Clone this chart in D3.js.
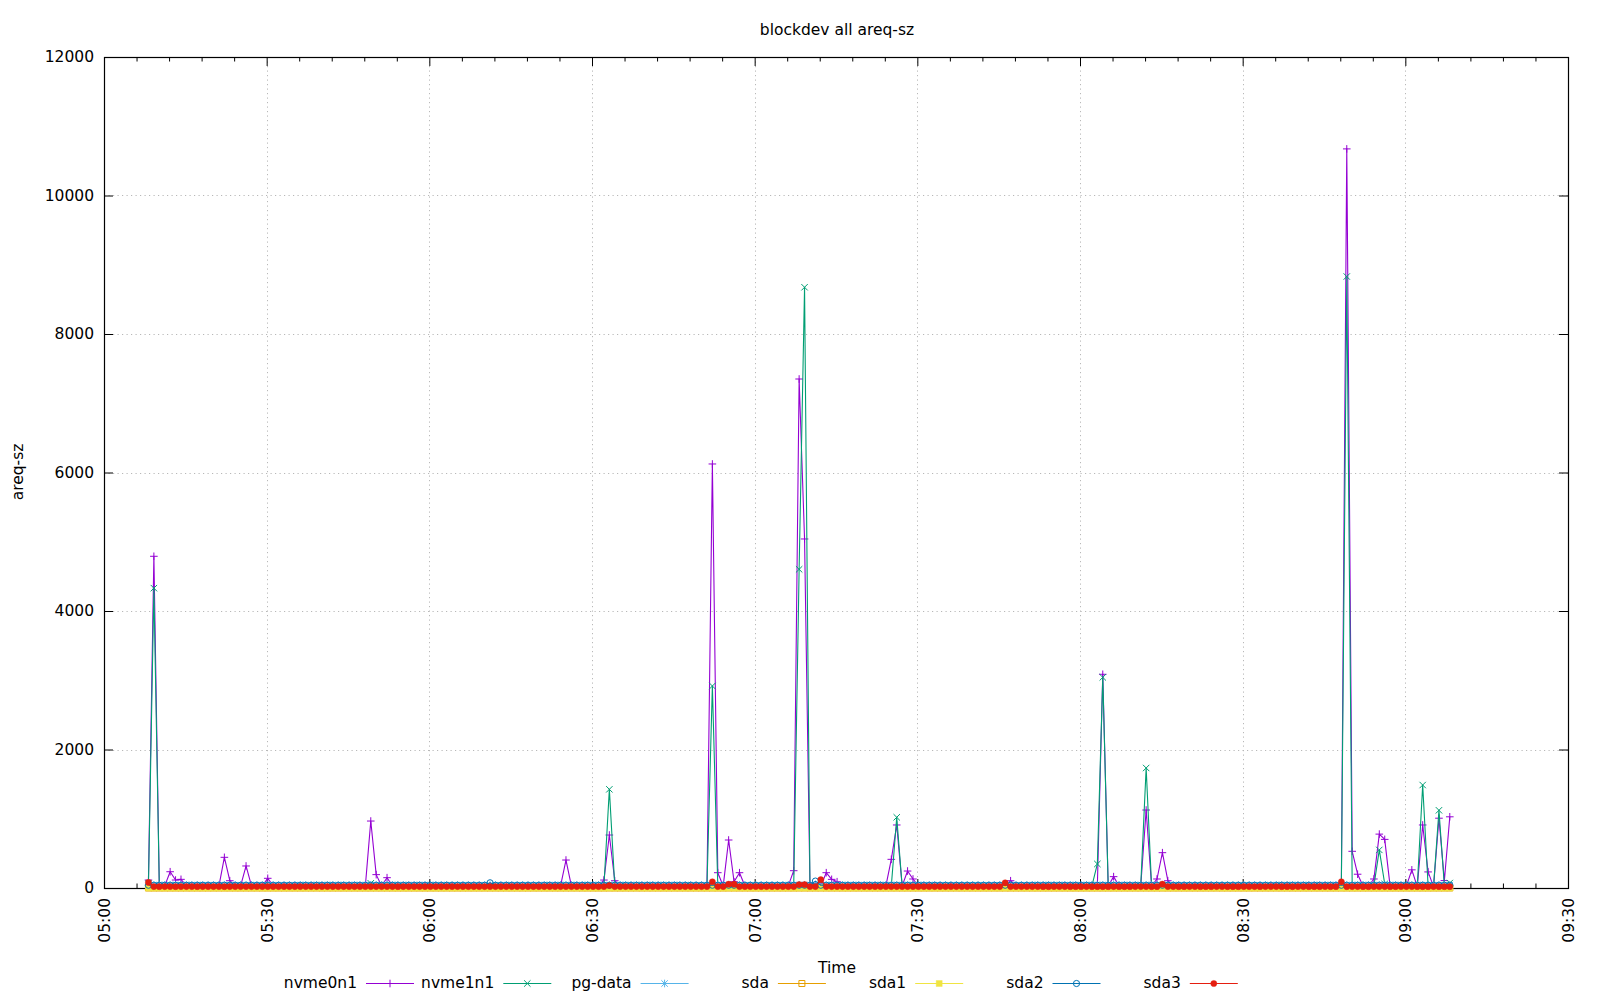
<!DOCTYPE html>
<html><head><meta charset="utf-8">
<script src="https://cdn.jsdelivr.net/npm/d3@7"></script>
<style>
body{margin:0;background:#fff;}
svg text{font-family:"DejaVu Sans",sans-serif;font-size:15.5px;fill:#000;}
</style></head><body>
<svg id="c" width="1600" height="1000"></svg>
<script>
// ---------------- DATA ----------------
const chartTitle = "blockdev all areq-sz";
const xTitle = "Time";
const yTitle = "areq-sz";
const seriesNames = ["nvme0n1","nvme1n1","pg-data","sda","sda1","sda2","sda3"];
const yTickValues = [0,2000,4000,6000,8000,10000,12000];
const xTickLabels = ["05:00","05:30","06:00","06:30","07:00","07:30","08:00","08:30","09:00","09:30"];
const firstSample = "05:08:12";   // one sample per minute
const sampleStepMin = 1;

const nvme0n1 = [
115,4790,30,30,235,115,125,30,30,30,30,30,30,30,443,105,30,30,318,30,
30,30,140,30,30,30,30,30,30,30,30,30,30,30,30,30,30,30,30,30,
30,967,193,30,149,30,30,30,30,30,30,30,30,30,30,30,30,30,30,30,
30,30,30,30,30,30,30,30,30,30,30,30,30,30,30,30,30,404,30,30,
30,30,30,30,115,765,105,30,30,30,30,30,30,30,30,30,30,30,30,30,
30,30,30,30,6123,221,30,693,91,221,30,30,30,30,30,30,30,30,30,250,
7350,5040,30,30,30,221,125,91,30,30,30,30,30,30,30,30,30,414,910,30,
245,130,30,30,30,30,30,30,30,30,30,30,30,30,30,30,30,30,30,105,
30,30,30,30,30,30,30,30,30,30,30,30,30,30,30,30,3086,30,164,30,
30,30,30,30,1126,30,130,510,105,30,30,30,30,30,30,30,30,30,30,30,
30,30,30,30,30,30,30,30,30,30,30,30,30,30,30,30,30,30,30,30,
30,10673,530,199,30,30,130,778,702,20,30,30,30,262,20,910,232,20,1008,107,
1028];
const nvme1n1 = [
60,4330,30,30,30,30,30,30,30,30,30,30,30,30,30,30,30,30,30,30,
30,30,30,30,30,30,30,30,30,30,30,30,30,30,30,30,30,30,30,30,
30,68,30,30,30,30,30,30,30,30,30,30,30,30,30,30,30,30,30,30,
30,30,30,30,30,30,30,30,30,30,30,30,30,30,30,30,30,30,30,30,
30,30,30,30,30,1425,30,30,30,30,30,30,30,30,30,30,30,30,30,30,
30,30,30,30,2917,30,30,30,30,30,30,30,30,30,30,30,30,30,30,30,
4602,8675,30,30,30,30,30,30,30,30,30,30,30,30,30,30,30,30,1021,30,
30,30,30,30,30,30,30,30,30,30,30,30,30,30,30,30,30,30,30,30,
30,30,30,30,30,30,30,30,30,30,30,30,30,30,30,347,3042,30,30,30,
30,30,30,30,1733,30,30,30,30,30,30,30,30,30,30,30,30,30,30,30,
30,30,30,30,30,30,30,30,30,30,30,30,30,30,30,30,30,30,30,30,
30,8830,30,30,30,30,30,550,58,30,30,30,30,30,20,1487,30,20,1122,30,
72];
const pgData = [
42,42,42,42,42,42,42,42,42,42,42,42,42,42,42,42,42,42,42,42,
42,42,42,42,42,42,42,42,42,42,42,42,42,42,42,42,42,42,42,42,
42,42,42,42,42,42,42,42,42,42,42,42,42,42,42,42,42,42,42,42,
42,42,42,42,42,42,42,42,42,42,42,42,42,42,42,42,42,42,42,42,
42,42,42,42,42,42,42,42,42,42,42,42,42,42,42,42,42,42,42,42,
42,42,42,42,42,42,42,42,42,42,42,42,42,42,42,42,42,42,42,42,
42,42,42,42,42,42,42,42,42,42,42,42,42,42,42,42,42,42,42,42,
42,42,42,42,42,42,42,42,42,42,42,42,42,42,42,42,42,42,42,42,
42,42,42,42,42,42,42,42,42,42,42,42,42,42,42,42,42,42,42,42,
42,42,42,42,42,42,42,42,42,42,42,42,42,42,42,42,42,42,42,42,
42,42,42,42,42,42,42,42,42,42,42,42,42,42,42,42,42,42,42,42,
42,42,42,42,42,42,42,42,42,42,42,42,42,42,42,42,42,42,42,42,
42];
const sda = [
0,0,0,0,0,0,0,0,0,0,0,0,0,0,0,0,0,0,0,0,
0,0,0,0,0,0,0,0,0,0,0,0,0,0,0,0,0,0,0,0,
0,0,0,0,0,0,0,0,0,0,0,0,0,0,0,0,0,0,0,0,
0,0,0,0,0,0,0,0,0,0,0,0,0,0,0,0,0,0,0,0,
0,0,0,0,0,0,0,0,0,0,0,0,0,0,0,0,0,0,0,0,
0,0,0,0,0,0,0,0,0,0,0,0,0,0,0,0,0,0,0,0,
0,0,0,0,0,0,0,0,0,0,0,0,0,0,0,0,0,0,0,0,
0,0,0,0,0,0,0,0,0,0,0,0,0,0,0,0,0,0,0,0,
0,0,0,0,0,0,0,0,0,0,0,0,0,0,0,0,0,0,0,0,
0,0,0,0,0,0,0,0,0,0,0,0,0,0,0,0,0,0,0,0,
0,0,0,0,0,0,0,0,0,0,0,0,0,0,0,0,0,0,0,0,
0,0,0,0,0,0,0,0,0,0,0,0,0,0,0,0,0,0,0,0,
0];
const sda1 = [
0,0,0,0,0,0,0,0,0,0,0,0,0,0,0,0,0,0,0,0,
0,0,0,0,0,0,0,0,0,0,0,0,0,0,0,0,0,0,0,0,
0,0,0,0,0,0,0,0,0,0,0,0,0,0,0,0,0,0,0,0,
0,0,0,0,0,0,0,0,0,0,0,0,0,0,0,0,0,0,0,0,
0,0,0,0,0,0,0,0,0,0,0,0,0,0,0,0,0,0,0,0,
0,0,0,0,0,0,0,0,0,0,0,0,0,0,0,0,0,0,0,0,
0,0,0,0,0,0,0,0,0,0,0,0,0,0,0,0,0,0,0,0,
0,0,0,0,0,0,0,0,0,0,0,0,0,0,0,0,0,0,0,0,
0,0,0,0,0,0,0,0,0,0,0,0,0,0,0,0,0,0,0,0,
0,0,0,0,0,0,0,0,0,0,0,0,0,0,0,0,0,0,0,0,
0,0,0,0,0,0,0,0,0,0,0,0,0,0,0,0,0,0,0,0,
0,0,0,0,0,0,0,0,0,0,0,0,0,0,0,0,0,0,0,0,
0];
const sda2 = [
40,40,40,40,40,40,40,40,40,40,40,40,40,40,40,40,40,40,40,40,
40,40,40,40,40,40,40,40,40,40,40,40,40,40,40,40,40,40,40,40,
40,40,40,40,40,40,40,40,40,40,40,40,40,40,40,40,40,40,40,40,
40,40,40,75,40,40,40,40,40,40,40,40,40,40,40,40,40,40,40,40,
40,40,40,40,40,40,40,40,40,40,40,40,40,40,40,40,40,40,40,40,
40,40,40,40,40,40,40,40,40,40,40,40,40,40,40,40,40,40,40,40,
40,40,40,100,40,40,40,40,40,40,40,40,40,40,40,40,40,40,40,40,
40,40,40,40,40,40,40,40,40,40,40,40,40,40,40,40,40,40,40,40,
40,40,40,40,40,40,40,40,40,40,40,40,40,40,40,40,40,40,40,40,
40,40,40,40,40,40,40,40,40,40,40,40,40,40,40,40,40,40,40,40,
40,40,40,40,40,40,40,40,40,40,40,40,40,40,40,40,40,40,40,40,
40,40,40,40,40,40,40,40,40,40,40,40,40,40,40,40,40,40,40,40,
40];
const sda3 = [
80,20,20,20,20,20,20,20,20,20,20,20,20,20,20,20,20,20,20,20,
20,20,20,20,20,20,20,20,20,20,20,20,20,20,20,20,20,20,20,20,
20,20,20,20,20,20,20,20,20,20,20,20,20,20,20,20,20,20,20,20,
20,20,20,20,20,20,20,20,20,20,20,20,20,20,20,20,20,20,20,20,
20,20,20,20,20,35,20,20,20,20,20,20,20,20,20,20,20,20,20,20,
20,20,20,20,90,20,20,55,55,20,20,20,20,20,20,20,20,20,20,20,
50,50,20,20,120,20,20,20,20,20,20,20,20,20,20,20,20,20,20,20,
20,20,20,20,20,20,20,20,20,20,20,20,20,20,20,20,20,20,75,20,
20,20,20,20,20,20,20,20,20,20,20,20,20,20,20,20,20,20,20,20,
20,20,20,20,20,20,20,55,20,20,20,20,20,20,20,20,20,20,20,20,
20,20,20,20,20,20,20,20,20,20,20,20,20,20,20,20,20,20,20,20,
90,20,20,20,20,20,20,20,20,20,20,20,20,20,20,20,20,20,20,20,
20];

// ---------------- STYLE ----------------
const seriesValues = [nvme0n1,nvme1n1,pgData,sda,sda1,sda2,sda3];
const seriesColors = ["#9400d3","#009e73","#56b4e9","#e69f00","#f0e442","#0072b2","#e51e10"];
const seriesMarkers = ["plus","cross","star","square","fsquare","circle","fcircle"];

const M = {left:104, right:1568, top:57, bottom:888};
const svg = d3.select("#c");

const parseHM = d3.timeParse("%H:%M");
const parseHMS = d3.timeParse("%H:%M:%S");
const t0 = parseHMS(firstSample);
const times = nvme0n1.map((_, i) => d3.timeMinute.offset(t0, i * sampleStepMin));

const x = d3.scaleTime()
  .domain([parseHM(xTickLabels[0]), parseHM(xTickLabels[xTickLabels.length-1])])
  .range([M.left, M.right]);
const y = d3.scaleLinear().domain([0, 12000]).range([M.bottom, M.top]);

const majorX = xTickLabels.map(parseHM);
const minorX = d3.timeMinute.every(6).range(x.domain()[0], d3.timeMinute.offset(x.domain()[1], 1))
  .filter(d => d.getMinutes() % 30 !== 0);

// grid
const grid = svg.append("g").attr("stroke", "#b8b8b8").attr("stroke-width", 1).attr("stroke-dasharray", "1.2,3.3");
grid.selectAll("line.v").data(majorX.slice(1, -1)).enter().append("line")
  .attr("x1", d => Math.round(x(d)) + 0.5).attr("x2", d => Math.round(x(d)) + 0.5)
  .attr("y1", M.top).attr("y2", M.bottom);
grid.selectAll("line.h").data(yTickValues.slice(1, -1)).enter().append("line")
  .attr("y1", d => Math.round(y(d)) + 0.5).attr("y2", d => Math.round(y(d)) + 0.5)
  .attr("x1", M.left).attr("x2", M.right);

// axes
function styleAxis(g) {
  g.select(".domain").remove();
  g.selectAll(".tick line").attr("stroke", "#000").attr("stroke-width", 1);
}
const xAxisB = svg.append("g").attr("transform", `translate(0,${M.bottom})`)
  .call(d3.axisBottom(x).tickValues(majorX).tickSize(-9).tickFormat(d3.timeFormat("%H:%M")))
  .call(styleAxis);
xAxisB.selectAll(".tick text")
  .attr("transform", "rotate(-90)").attr("x", -10).attr("y", 0).attr("dy", "0.35em")
  .style("text-anchor", "end");
svg.append("g").attr("transform", `translate(0,${M.bottom})`)
  .call(d3.axisBottom(x).tickValues(minorX).tickSize(-4.5).tickFormat(""))
  .call(styleAxis);
svg.append("g").attr("transform", `translate(0,${M.top})`)
  .call(d3.axisTop(x).tickValues(majorX).tickSize(-9).tickFormat(""))
  .call(styleAxis);
svg.append("g").attr("transform", `translate(0,${M.top})`)
  .call(d3.axisTop(x).tickValues(minorX).tickSize(-4.5).tickFormat(""))
  .call(styleAxis);
svg.append("g").attr("transform", `translate(${M.left},0)`)
  .call(d3.axisLeft(y).tickValues(yTickValues).tickSize(-9).tickPadding(10).tickFormat(d3.format("d")))
  .call(styleAxis);
svg.append("g").attr("transform", `translate(${M.right},0)`)
  .call(d3.axisRight(y).tickValues(yTickValues).tickSize(-9).tickFormat(""))
  .call(styleAxis);
svg.selectAll("g").attr("font-size", null).attr("font-family", null);

// border
svg.append("rect").attr("x", M.left + 0.5).attr("y", M.top + 0.5)
  .attr("width", M.right - M.left).attr("height", M.bottom - M.top)
  .attr("fill", "none").attr("stroke", "#000").attr("stroke-width", 1.2);

// markers
function markerPath(type, px, py) {
  const a = 3.8, b = 3.2, s = 3.0;
  switch (type) {
    case "plus": return `M${px-a},${py}H${px+a}M${px},${py-a}V${py+a}`;
    case "cross": return `M${px-b},${py-b}L${px+b},${py+b}M${px-b},${py+b}L${px+b},${py-b}`;
    case "star": return `M${px-a},${py}H${px+a}M${px},${py-a}V${py+a}M${px-b},${py-b}L${px+b},${py+b}M${px-b},${py+b}L${px+b},${py-b}`;
    case "square": case "fsquare": return `M${px-s},${py-s}h${2*s}v${2*s}h${-2*s}Z`;
    case "circle": case "fcircle": {
      const r = 3.1;
      return `M${px-r},${py}a${r},${r} 0 1,0 ${2*r},0a${r},${r} 0 1,0 ${-2*r},0Z`;
    }
  }
}
const line = d3.line().x(d => x(d[0])).y(d => y(d[1]));
const plot = svg.append("g");
seriesValues.forEach((vals, si) => {
  const pts = vals.map((v, i) => [times[i], v]);
  const col = seriesColors[si], mk = seriesMarkers[si];
  plot.append("path").attr("d", line(pts)).attr("fill", "none")
    .attr("stroke", col).attr("stroke-width", 1.1).attr("stroke-linejoin", "round");
  const filled = mk === "fsquare" || mk === "fcircle";
  plot.append("path").attr("d", pts.map(p => markerPath(mk, x(p[0]), y(p[1]))).join(""))
    .attr("fill", filled ? col : "none").attr("stroke", col).attr("stroke-width", filled ? 0.4 : 1);
});

// titles
svg.append("text").attr("x", 837).attr("y", 30).attr("text-anchor", "middle").attr("dominant-baseline", "middle").text(chartTitle);
svg.append("text").attr("x", 837).attr("y", 968).attr("text-anchor", "middle").attr("dominant-baseline", "middle").text(xTitle);
svg.append("text").attr("transform", "translate(18,472) rotate(-90)").attr("text-anchor", "middle").attr("dominant-baseline", "middle").text(yTitle);

// legend
const legend = svg.append("g");
seriesNames.forEach((name, i) => {
  const te = 357 + i * 137.3, ly = 983;
  legend.append("text").attr("x", te).attr("y", ly).attr("text-anchor", "end").attr("dominant-baseline", "middle").text(name);
  legend.append("line").attr("x1", te + 9).attr("x2", te + 57).attr("y1", ly + 0.5).attr("y2", ly + 0.5)
    .attr("stroke", seriesColors[i]).attr("stroke-width", 1.1);
  const mk = seriesMarkers[i], filled = mk === "fsquare" || mk === "fcircle";
  legend.append("path").attr("d", markerPath(mk, te + 33, ly + 0.5))
    .attr("fill", filled ? seriesColors[i] : "none").attr("stroke", seriesColors[i]).attr("stroke-width", filled ? 0.4 : 1);
});
</script>
</body></html>
